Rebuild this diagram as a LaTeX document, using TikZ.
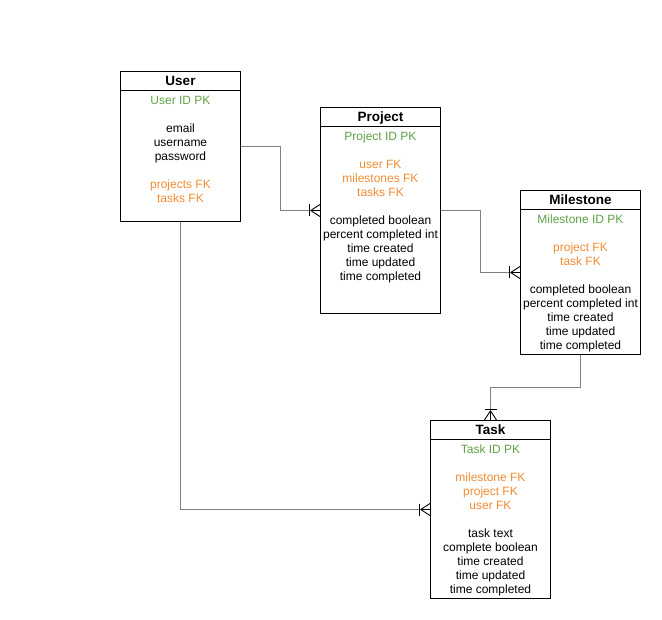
\documentclass[tikz,border=0pt]{standalone}
\usepackage{fontspec}
\setmainfont{Liberation Sans}
\usetikzlibrary{calc}
\definecolor{pkgreen}{RGB}{96,160,70}
\definecolor{fkorange}{RGB}{240,140,50}
\definecolor{linkgray}{RGB}{128,128,128}
\newcommand{\pkey}[1]{\textcolor{pkgreen}{#1}}
\newcommand{\fkey}[1]{\textcolor{fkorange}{#1}}
\begin{document}
\begin{tikzpicture}[x=1pt,y=-1pt,
  entity/.style={draw=black, line width=1pt, minimum width=120pt, inner sep=0pt, anchor=north west},
  entitytitle/.style={font=\fontsize{13.5}{16}\selectfont\bfseries, anchor=base, inner sep=0pt},
  entitybody/.style={font=\fontsize{12}{14}\selectfont, align=center, anchor=north, inner sep=0pt},
  divider/.style={draw=black, line width=1pt},
  conn/.style={draw=linkgray, line width=1.6pt},
  crowfoot/.pic={
    \draw[black, line width=0.9pt] (-9.3,0) -- (0,-6) (-9.3,0) -- (0,6) (-9.3,0) -- (0,0);
    \draw[black, line width=1pt] (-10.7,-6) -- (-10.7,6);
  }
]
\useasboundingbox (0,0) rectangle (662,620);

% entity boxes
\node[entity, minimum height=150pt] (user) at (120,71) {};
\node[entity, minimum height=206pt] (project) at (320,107) {};
\node[entity, minimum height=164pt] (milestone) at (520,190) {};
\node[entity, minimum height=178pt] (task) at (430,420) {};

% header dividers
\foreach \e in {user,project,milestone,task}{
  \draw[divider] ($(\e.north west)+(0,20)$) -- ($(\e.north east)+(0,20)$);
}

% titles
\node[entitytitle] (user-title) at ($(user.north)+(0,15)$) {User};
\node[entitytitle] (project-title) at ($(project.north)+(0,15)$) {Project};
\node[entitytitle] (milestone-title) at ($(milestone.north)+(0,15)$) {Milestone};
\node[entitytitle] (task-title) at ($(task.north)+(0,15)$) {Task};

% attributes
\node[entitybody] (user-body) at ($(user.north)+(0,25.5)$) {%
  \pkey{User ID PK}\\[14pt]
  email\\ username\\ password\\[14pt]
  \fkey{projects FK}\\ \fkey{tasks FK}};
\node[entitybody] (project-body) at ($(project.north)+(0,25)$) {%
  \pkey{Project ID PK}\\[14pt]
  \fkey{user FK}\\ \fkey{milestones FK}\\ \fkey{tasks FK}\\[14pt]
  completed boolean\\ percent completed int\\ time created\\ time updated\\ time completed};
\node[entitybody] (milestone-body) at ($(milestone.north)+(0,25)$) {%
  \pkey{Milestone ID PK}\\[14pt]
  \fkey{project FK}\\ \fkey{task FK}\\[14pt]
  completed boolean\\ percent completed int\\ time created\\ time updated\\ time completed};
\node[entitybody] (task-body) at ($(task.north)+(0,25)$) {%
  \pkey{Task ID PK}\\[14pt]
  \fkey{milestone FK}\\ \fkey{project FK}\\ \fkey{user FK}\\[14pt]
  task text\\ complete boolean\\ time created\\ time updated\\ time completed};

% relationships
\draw[conn] (user.east) -| ($(user.east)!0.5!(project.west)$) |- (project.west);
\draw[conn] (project.east) -| ($(project.east)!0.5!(milestone.west)$) |- (milestone.west);
\draw[conn] (milestone.south) |- ($(milestone.south)!0.5!(task.north)$) -| (task.north);
\draw[conn] (user.south) |- (task.west);

% many-side markers
\pic at (project.west) {crowfoot};
\pic at (milestone.west) {crowfoot};
\pic[rotate=-90] at (task.north) {crowfoot};
\pic at (task.west) {crowfoot};
\end{tikzpicture}
\end{document}
